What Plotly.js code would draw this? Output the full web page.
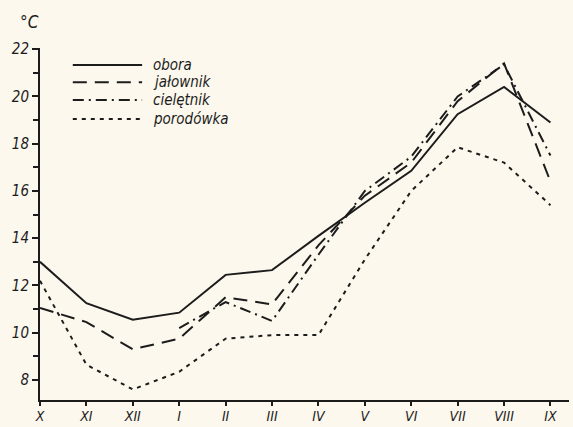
<!DOCTYPE html>
<html>
<head>
<meta charset="utf-8">
<script src="https://cdn.plot.ly/plotly-3.0.1.min.js"></script>
<style>html,body{margin:0;padding:0;background:#fcf8ed;}#chart{width:573px;height:427px;}</style>
</head>
<body>
<div id="chart"></div>
<script>
const months = ['X','XI','XII','I','II','III','IV','V','VI','VII','VIII','IX'];
const obora = [13.0, 11.25, 10.55, 10.85, 12.45, 12.65, 14.1, 15.5, 16.85, 19.25, 20.4, 18.9];
const jalownik = [11.05, 10.45, 9.3, 9.75, 11.5, 11.2, 13.7, 15.8, 17.2, 19.8, 21.4, 16.4];
const cieletnik = [null, null, null, 10.2, 11.3, 10.5, 13.3, 16.0, 17.45, 20.0, 21.35, 17.5];
const porodowka = [12.2, 8.65, 7.6, 8.35, 9.75, 9.9, 9.9, 13.1, 16.0, 17.85, 17.2, 15.4];
const seriesNames = ['obora', 'jałownik', 'cielętnik', 'porodówka'];
const unitLabel = '°C';

const ink = '#1c1c1c';
const dashes = ['solid', '14px,8px', '11px,5px,2px,5px', '4px,5px'];
const seriesData = [obora, jalownik, cieletnik, porodowka];
const fontFam = '"DejaVu Sans Condensed", "DejaVu Sans", sans-serif';

const traces = seriesData.map((ys, i) => ({
  type: 'scatter', mode: 'lines', x: months, y: ys, name: seriesNames[i],
  line: {color: ink, width: 2, dash: dashes[i]}, connectgaps: false,
  showlegend: false, hoverinfo: 'skip'
}));

// legend drawn as paper-referenced samples
const legRowsY = [0.952, 0.903, 0.852, 0.798];
const shapes = [];
const annotations = [];
seriesNames.forEach((n, i) => {
  shapes.push({type: 'line', xref: 'paper', yref: 'paper', x0: 0.062, x1: 0.193, y0: legRowsY[i], y1: legRowsY[i],
    line: {color: ink, width: 2, dash: dashes[i]}});
  annotations.push({xref: 'paper', yref: 'paper', x: 0.21, y: legRowsY[i], xanchor: 'left', yanchor: 'middle',
    text: n, showarrow: false, font: {family: fontFam, size: 15, color: ink, style: 'italic'}});
});
annotations.push({xref: 'paper', yref: 'paper', x: -0.02, y: 1.075, xanchor: 'center', yanchor: 'middle',
  text: unitLabel, showarrow: false, font: {family: fontFam, size: 17, color: ink, style: 'italic'}});

const layout = {
  width: 573, height: 427,
  paper_bgcolor: '#fcf8ed', plot_bgcolor: '#fcf8ed',
  margin: {l: 40, r: 4, t: 48, b: 27},
  showlegend: false,
  xaxis: {
    type: 'category', range: [0, 11.4], showgrid: false, zeroline: false,
    showline: true, linecolor: ink, linewidth: 2,
    ticks: 'outside', ticklen: 4, tickwidth: 2, tickcolor: ink, ticklabelstandoff: -2,
    tickfont: {family: fontFam, size: 14, color: ink, style: 'italic'}
  },
  yaxis: {
    range: [7.154, 22.05], showgrid: false, zeroline: false,
    showline: true, linecolor: ink, linewidth: 2,
    tick0: 0, dtick: 2, ticks: 'outside', ticklen: 6, tickwidth: 2, tickcolor: ink,
    minor: {dtick: 1, ticks: 'outside', ticklen: 5, tickwidth: 2, tickcolor: ink, showgrid: false},
    tickfont: {family: fontFam, size: 15, color: ink, style: 'italic'}
  },
  shapes: shapes,
  annotations: annotations
};

Plotly.newPlot('chart', traces, layout, {displayModeBar: false, staticPlot: true});
</script>
</body>
</html>
